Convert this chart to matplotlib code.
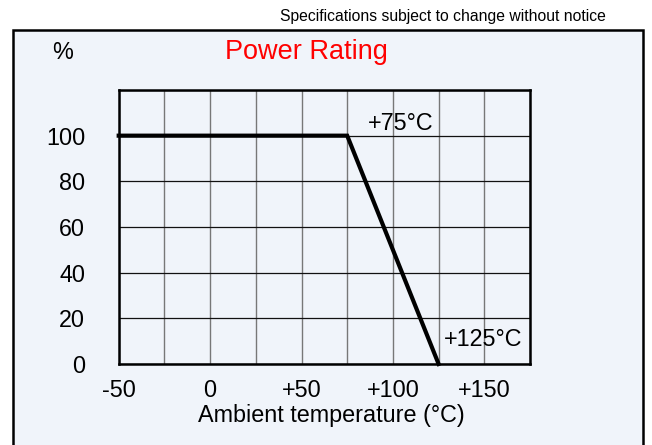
import matplotlib
matplotlib.use("Agg")
import matplotlib.pyplot as plt
from matplotlib.patches import Rectangle
import numpy as np

plt.rcParams['font.family'] = ['Liberation Sans', 'DejaVu Sans']

# Data
temperature = [-50, 75, 125]
power_pct = [100, 100, 0]
x_ticks = [-50, 0, 50, 100, 150]
x_tick_labels = ['-50', '0', '+50', '+100', '+150']
y_ticks = [0, 20, 40, 60, 80, 100]
y_tick_labels = ['0', '20', '40', '60', '80', '100']
x_grid = np.arange(-50, 176, 25)
y_grid = np.arange(0, 121, 20)

W, H = 652, 445
fig = plt.figure(figsize=(W / 100, H / 100), dpi=100)
fig.patch.set_facecolor('white')

# outer panel
panel = Rectangle((12.5 / W, -0.05), (643 - 12.5) / W, 1.05 - 29.5 / H,
                  transform=fig.transFigure, facecolor='#F0F4FA',
                  edgecolor='black', linewidth=1.8, zorder=-10)
fig.patches.append(panel)

ax = fig.add_axes([118.7 / W, 1 - 364 / H, (530 - 118.7) / W, (364 - 90) / H])
ax.set_zorder(5)
ax.patch.set_alpha(0)
ax.set_xlim(-50, 175)
ax.set_ylim(0, 120)

for xv in x_grid:
    ax.axvline(xv, color='#777777', linewidth=1.0, zorder=1)
for yv in y_grid:
    ax.axhline(yv, color='#111111', linewidth=0.9, zorder=1)

ax.plot(temperature, power_pct, color='black', linewidth=3.0,
        solid_joinstyle='miter', zorder=3, clip_on=False)

for s in ax.spines.values():
    s.set_linewidth(1.8)
    s.set_color('black')

FS = 16.8
ax.set_xticks(x_ticks)
ax.set_xticklabels(x_tick_labels)
ax.set_yticks(y_ticks)
ax.set_yticklabels(y_tick_labels)
ax.tick_params(axis='both', length=0, labelsize=FS, colors='black')
ax.tick_params(axis='x', pad=11)
ax.tick_params(axis='y', pad=24)

ax.set_xlabel('Ambient temperature (°C)', fontsize=FS)
ax.xaxis.set_label_coords(0.516, -0.145)

ax.text(86.4, 105.5, '+75°C', fontsize=FS, ha='left', va='center', zorder=4)
ax.text(128, 10.9, '+125°C', fontsize=FS, ha='left', va='center', zorder=4)

fig.text(306 / W, 1 - 59 / H, 'Power Rating', color='#FF0000', fontsize=19.5,
         ha='center', va='baseline')
fig.text(52 / W, 1 - 59 / H, '%', fontsize=FS, ha='left', va='baseline')
fig.text(606 / W, 1 - 21 / H, 'Specifications subject to change without notice',
         fontsize=11.3, ha='right', va='baseline')

fig.savefig('out.png', dpi=100)
